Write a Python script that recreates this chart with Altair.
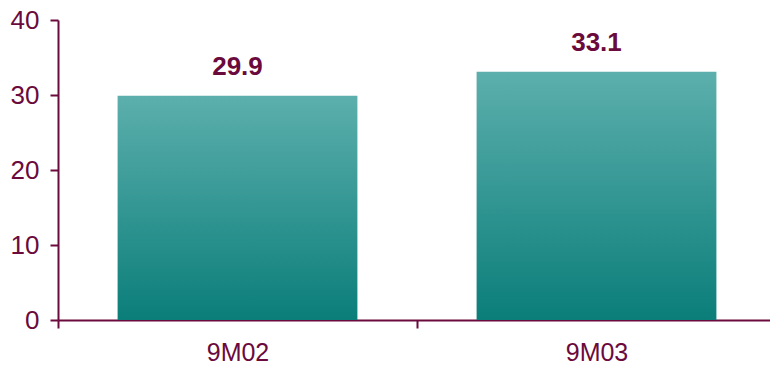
import altair as alt
import pandas as pd

categories = ["9M02", "9M03"]
values = [29.9, 33.1]
labels = ["29.9", "33.1"]

df = pd.DataFrame({"cat": categories, "val": values, "lab": labels})

MAROON = "#6B0A3C"
FONT = "Liberation Sans"

x = alt.X("cat:N", title=None, sort=categories,
          scale=alt.Scale(paddingInner=0, paddingOuter=0, range=[0, 718]),
          axis=alt.Axis(labelAngle=0, tickBand="extent", domainColor=MAROON, tickColor=MAROON,
                        domainWidth=2, tickWidth=2, tickSize=8, labelPadding=12,
                        labelColor=MAROON, labelFont=FONT, labelFontSize=25, grid=False))
y = alt.Y("val:Q", title=None,
          scale=alt.Scale(domain=[0, 40], nice=False),
          axis=alt.Axis(values=[0, 10, 20, 30, 40], domainColor=MAROON, tickColor=MAROON,
                        domainWidth=2, tickWidth=2, tickSize=8, labelPadding=11,
                        labelColor=MAROON, labelFont=FONT, labelFontSize=26, grid=False))

grad = alt.Gradient(gradient="linear",
                    stops=[alt.GradientStop(color="#5CAFAC", offset=0),
                           alt.GradientStop(color="#0B7E7A", offset=1)],
                    x1=0, x2=0, y1=0, y2=1)

bars = alt.Chart(df).mark_bar(color=grad, width=alt.RelativeBandSize(0.668)).encode(x=x, y=y)
text = alt.Chart(df).mark_text(font=FONT, fontSize=26, fontWeight="bold", color=MAROON,
                               baseline="middle", dy=-29).encode(x=x, y=y, text="lab:N")

chart = (bars + text).properties(
    width=712, height=300,
    background="white",
    autosize=alt.AutoSizeParams(type="none"),
    padding={"left": 58, "top": 20, "right": 0, "bottom": 47},
).configure_view(stroke="transparent", strokeWidth=0)

chart.save("out.html", embed_options={"renderer": "svg", "actions": False})
